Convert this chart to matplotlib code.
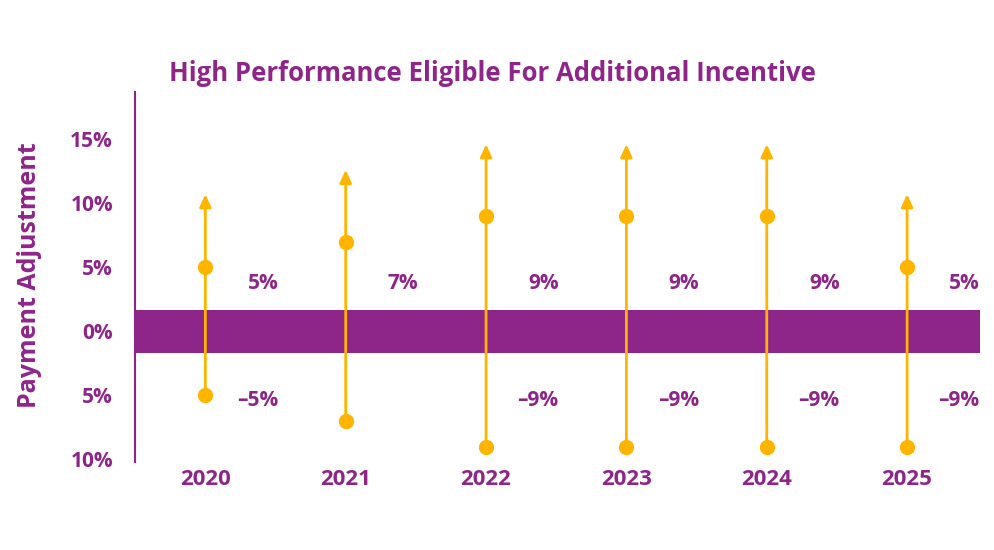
import matplotlib.pyplot as plt

# colours
purple = "#8E2689"
orange = "#FFB400"

# data
years = ["2020", "2021", "2022", "2023", "2024", "2025"]
upper = [5, 7, 9, 9, 9, 5]
lower = [-5, -7, -9, -9, -9, -9]
arrow_top = [10.7, 12.6, 14.6, 14.6, 14.6, 10.7]
upper_labels = ["5%", "7%", "9%", "9%", "9%", "5%"]
lower_labels = ["–5%", "", "–9%", "–9%", "–9%", "–9%"]
tick_vals = [15, 10, 5, 0, -5, -10]
tick_labels = ["15%", "10%", "5%", "0%", "5%", "10%"]

plt.rcParams['font.family'] = ['Open Sans', 'DejaVu Sans']

fig = plt.figure(figsize=(9.94, 5.5), dpi=100)
ax = fig.add_axes([0.136, 0.16, 0.85, 0.673])

x = list(range(len(years)))

# thick purple band around zero
ax.axhspan(-1.7, 1.7, color=purple, zorder=1, lw=0)

# vertical arrows from bottom dot up past the top dot
for i in x:
    ax.annotate("", xy=(i, arrow_top[i]), xytext=(i, lower[i]),
                arrowprops=dict(arrowstyle="-|>,head_width=0.35,head_length=0.75",
                                color=orange, lw=2, shrinkA=0, shrinkB=0),
                zorder=3)

ax.plot(x, upper, "o", color=orange, ms=10, zorder=4)
ax.plot(x, lower, "o", color=orange, ms=10, zorder=4)

# value labels next to each arrow
for i in x:
    ax.text(i + 0.41, 3.75, upper_labels[i], color=purple, fontsize=15,
            fontweight="bold", ha="center", va="center")
    if lower_labels[i]:
        ax.text(i + 0.37, -5.4, lower_labels[i], color=purple, fontsize=15,
                fontweight="bold", ha="center", va="center")

ax.set_xlim(-0.5, 5.52)
ax.set_ylim(-10.2, 18.7)
ax.set_xticks(x)
ax.set_xticklabels(years)
ax.set_yticks(tick_vals)
ax.set_yticklabels(tick_labels)
ax.tick_params(length=0, labelcolor=purple)
ax.tick_params(axis="x", pad=5, labelsize=16)
ax.tick_params(axis="y", pad=16, labelsize=15)
for lab in ax.get_xticklabels() + ax.get_yticklabels():
    lab.set_fontweight("bold")

for s in ["top", "right", "bottom"]:
    ax.spines[s].set_visible(False)
ax.spines["left"].set_color(purple)
ax.spines["left"].set_linewidth(1.5)

fig.text(0.495, 0.867, "High Performance Eligible For Additional Incentive",
         color=purple, fontsize=18.5, fontweight="bold", ha="center", va="center")
fig.text(0.03, 0.5, "Payment Adjustment", color=purple, fontsize=18,
         fontweight="bold", rotation=90, ha="center", va="center")

fig.savefig("out.png", dpi=100)
